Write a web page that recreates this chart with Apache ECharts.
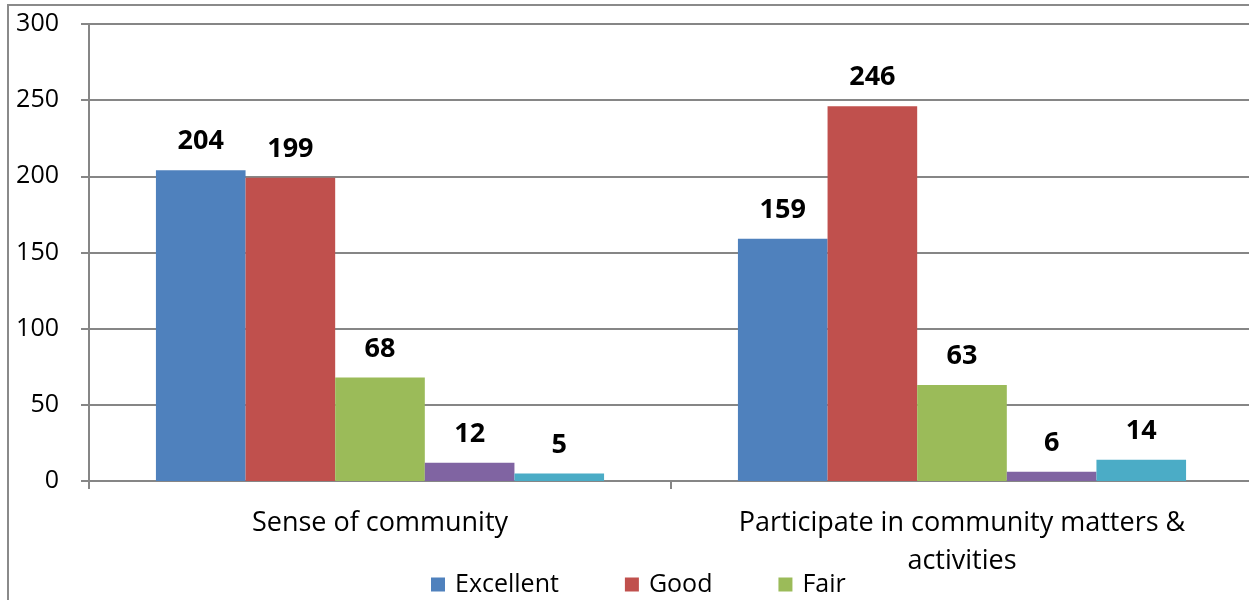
<!DOCTYPE html>
<html>
<head>
<meta charset="utf-8">
<style>
html,body{margin:0;padding:0;background:#fff;overflow:hidden;width:1249px;height:600px;}
#c{width:1270px;height:600px;}
</style>
<script src="https://cdn.jsdelivr.net/npm/echarts@6/dist/echarts.min.js"></script>
</head>
<body>
<div id="c"></div>
<script>
var categories = ['Sense of community', 'Participate in community matters &\nactivities'];
var excellent = [204, 159];
var good = [199, 246];
var fair = [68, 63];
var series4 = [12, 6];
var series5 = [5, 14];
var legendNames = ['Excellent', 'Good', 'Fair'];
var colors = ['#4F81BD', '#C0504D', '#9BBB59', '#8064A2', '#4BACC6'];

var FONT = 'Open Sans';
var chart = echarts.init(document.getElementById('c'));

function mk(name, data, color) {
  return {
    name: name,
    type: 'bar',
    data: data,
    barGap: '0%',
    barCategoryGap: '23%',
    itemStyle: { color: color },
    label: {
      show: true,
      position: 'top',
      distance: 15,
      color: '#000',
      fontWeight: 'bold',
      fontSize: 27,
      fontFamily: FONT
    }
  };
}

chart.setOption({
  animation: false,
  color: colors,
  graphic: [{
    type: 'polyline',
    shape: { points: [[8, 600], [8, 5], [1270, 5]] },
    style: { fill: 'none', stroke: '#8a8a8a', lineWidth: 2 },
    silent: true
  }],
  legend: {
    data: legendNames,
    left: 426,
    top: 567,
    itemWidth: 14,
    itemHeight: 14,
    itemGap: 66,
    icon: 'rect',
    textStyle: { fontSize: 25, fontFamily: FONT, color: '#000', padding: [0, 0, 0, 5] }
  },
  grid: { left: 89, top: 24, height: 457, width: 1164, containLabel: false, outerBoundsMode: 'none' },
  xAxis: {
    type: 'category',
    data: categories,
    axisLine: { lineStyle: { color: '#868686', width: 2 } },
    axisTick: { show: true, length: 8, alignWithLabel: false, lineStyle: { color: '#868686', width: 2 } },
    axisLabel: { interval: 0, margin: 23, color: '#000', fontSize: 27, fontFamily: FONT, lineHeight: 38 }
  },
  yAxis: {
    type: 'value',
    min: 0,
    max: 300,
    interval: 50,
    axisLine: { show: true, lineStyle: { color: '#868686', width: 2 } },
    axisTick: { show: true, length: 8, lineStyle: { color: '#868686', width: 2 } },
    splitLine: { lineStyle: { color: '#868686', width: 2 } },
    axisLabel: { margin: 30, color: '#000', fontSize: 25, fontFamily: FONT }
  },
  series: [
    mk('Excellent', excellent, colors[0]),
    mk('Good', good, colors[1]),
    mk('Fair', fair, colors[2]),
    mk('', series4, colors[3]),
    mk(' ', series5, colors[4])
  ]
});
</script>
</body>
</html>
